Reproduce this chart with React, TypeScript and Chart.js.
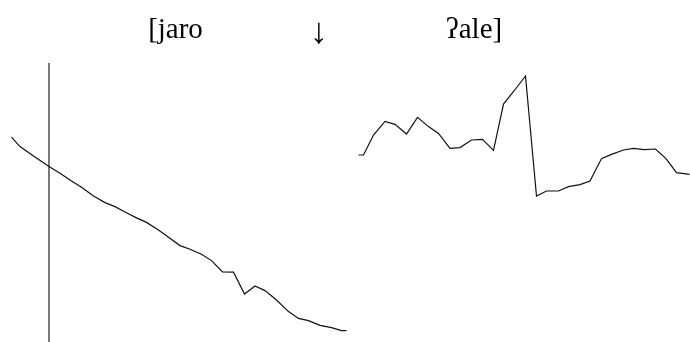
import React, { useEffect, useRef } from "react";
import { Chart, registerables } from "chart.js";

Chart.register(...registerables);

// Pitch track (time in ms, F0 in Hz)
const leftTimes = [23, 40, 67, 98, 120, 143, 163, 187, 210, 230, 250, 272, 293, 317, 337, 360, 380, 403, 423, 445, 467, 489, 510, 530, 553, 577, 597, 617, 640, 663, 683, 693];
const leftF0 = [191.4, 186.7, 182, 176.7, 173.4, 169.5, 166.4, 162, 158.7, 156.7, 154, 151.2, 148.8, 145, 141.4, 137.2, 135.4, 132.9, 129.7, 124, 123.9, 113, 117, 114.7, 110, 104.2, 100.8, 99.7, 97.3, 96.2, 94.7, 94.7];

const rightTimes = [717, 727, 747, 770, 790, 813, 835, 857, 877, 900, 920, 943, 965, 987, 1007, 1028, 1051, 1073, 1093, 1117, 1137, 1160, 1180, 1203, 1223, 1247, 1267, 1288, 1311, 1332, 1353, 1379];
const rightF0 = [182.5, 182.5, 192.5, 199.3, 197.8, 193, 201.3, 196.7, 193.3, 185.8, 186.2, 190, 190.3, 184.8, 208, 214.5, 222, 162, 164.5, 164.5, 166.7, 167.7, 169.5, 180.7, 182.8, 185, 185.8, 185.2, 185.5, 180.7, 173.7, 172.8];

const boundaryTime = 98;
const boundaryF0 = [228.5, 89];

const labelTexts = ["[jaro", "↓", "ʔale]"];
const labelTimes = [351, 638, 948];
const labelF0 = [241, 238.5, 241];
const labelSizes = [29, 36, 29];

const xMin = 0;
const xMax = 1380;
const yMin = 89;
const yMax = 260;

const toPoints = (xs: number[], ys: number[]) => xs.map((x, i) => ({ x, y: ys[i] }));

const labelPlugin = {
  id: "ipaLabels",
  afterDraw(chart: any) {
    const ctx = chart.ctx;
    const xs = chart.scales.x;
    const ys = chart.scales.y;
    ctx.save();
    ctx.fillStyle = "#000";
    ctx.textAlign = "center";
    ctx.textBaseline = "alphabetic";
    labelTexts.forEach((t, i) => {
      ctx.font = `${labelSizes[i]}px "Liberation Serif", "DejaVu Serif", serif`;
      ctx.fillText(t, xs.getPixelForValue(labelTimes[i]), ys.getPixelForValue(labelF0[i]));
    });
    ctx.restore();
  },
};

export default function App() {
  const ref = useRef<HTMLCanvasElement>(null);
  useEffect(() => {
    document.body.style.margin = "0";
    const chart = new Chart(ref.current!, {
      type: "line",
      data: {
        datasets: [
          {
            data: toPoints(leftTimes, leftF0),
            borderColor: "#111",
            borderWidth: 1.2,
            pointRadius: 0,
            tension: 0,
          },
          {
            data: toPoints(rightTimes, rightF0),
            borderColor: "#111",
            borderWidth: 1.2,
            pointRadius: 0,
            tension: 0,
          },
          {
            data: [
              { x: boundaryTime, y: boundaryF0[0] },
              { x: boundaryTime, y: boundaryF0[1] },
            ],
            borderColor: "#222",
            borderWidth: 1.2,
            pointRadius: 0,
          },
        ],
      },
      options: {
        animation: false,
        responsive: false,
        layout: { padding: 0 },
        plugins: { legend: { display: false }, tooltip: { enabled: false }, title: { display: false } },
        scales: {
          x: { type: "linear", min: xMin, max: xMax, display: false },
          y: { type: "linear", min: yMin, max: yMax, display: false },
        },
      },
      plugins: [labelPlugin],
    });
    return () => chart.destroy();
  }, []);
  return (
    <div style={{ position: "absolute", left: 0, top: 0, width: 690, height: 342, background: "#fff" }}>
      <canvas ref={ref} width={690} height={342} />
    </div>
  );
}
